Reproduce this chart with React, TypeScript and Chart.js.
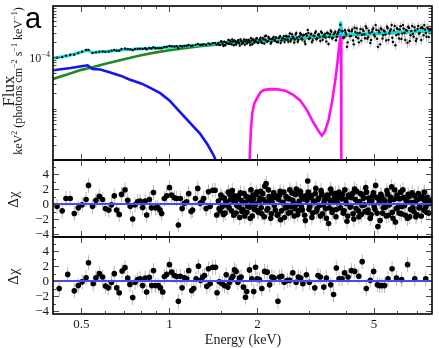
import { useEffect, useRef } from "react";
import { Chart, registerables } from "chart.js";

Chart.register(...registerables);

// ---------- axis ranges & ticks ----------
const X_MIN = 0.4;
const X_MAX = 7.9;
const FLUX_MIN = 1e-6;
const FLUX_MAX = 1e-3;
const RES_MIN = -4.4;
const RES_MAX = 5.9;
const FLUX_UNIT = 1e-4; // flux values below are in units of 1e-4

const xMajorTicks = [0.5, 1, 2, 5];
const xTickLabels = ["0.5", "1", "2", "5"];
const xMinorTicks = [0.6, 0.7, 0.8, 0.9, 1.5, 3, 4, 6, 7];
const resMajorTicks = [-4, -2, 0, 2, 4];
const resTickLabels = ["\u22124", "\u22122", "0", "2", "4"];
const resMinorTicks = [-3, -1, 1, 3, 5];
const fluxMajorTicks = [1e-4];
const fluxMinorTicks = [
  2e-6, 3e-6, 4e-6, 5e-6, 6e-6, 7e-6, 8e-6, 9e-6, 1e-5,
  2e-5, 3e-5, 4e-5, 5e-5, 6e-5, 7e-5, 8e-5, 9e-5,
  2e-4, 3e-4, 4e-4, 5e-4, 6e-4, 7e-4, 8e-4, 9e-4,
];

// ---------- model components: [energy keV, flux (1e-4 units)] ----------
const totalModel = [
  [0.4, 0.96], [0.45, 1.07], [0.5, 1.27], [0.525, 1.38], [0.545, 1.24], [0.6, 1.3],
  [0.7, 1.4], [0.85, 1.49], [1.0, 1.57], [1.3, 1.76], [1.6, 1.93], [1.9, 2.06],
  [2.3, 2.24], [2.6, 2.38], [3.0, 2.5], [3.4, 2.62], [3.7, 2.7], [3.8, 2.8],
  [3.83, 3.4], [3.85, 5.0], [3.87, 3.4], [3.9, 2.8], [3.95, 2.74], [4.5, 2.84],
  [5.7, 3.0], [7.9, 3.3],
];
const powerLaw = [
  [0.4, 0.38], [0.45, 0.47], [0.5, 0.57], [0.55, 0.65], [0.6, 0.74], [0.7, 0.92],
  [0.8, 1.1], [0.9, 1.25], [1.0, 1.37], [1.27, 1.64], [1.5, 1.8], [1.9, 1.98],
  [2.5, 2.2], [3.0, 2.38], [3.5, 2.53], [4.0, 2.66], [5.0, 2.86], [6.0, 3.02], [7.9, 3.25],
];
const softComp = [
  [0.4, 0.56], [0.46, 0.62], [0.5, 0.67], [0.525, 0.7], [0.545, 0.59], [0.58, 0.58],
  [0.62, 0.52], [0.68, 0.44], [0.73, 0.37], [0.8, 0.31], [0.854, 0.26], [0.93, 0.2],
  [1.0, 0.145], [1.13, 0.068], [1.27, 0.033], [1.35, 0.02], [1.42, 0.012], [1.5, 0.005],
];
const edgeComp = [
  [1.86, 0.003], [1.88, 0.01], [1.9, 0.04], [1.92, 0.08], [1.95, 0.127], [2.0, 0.165],
  [2.05, 0.21], [2.1, 0.23], [2.2, 0.24], [2.35, 0.238], [2.5, 0.22], [2.65, 0.185],
  [2.8, 0.145], [2.95, 0.095], [3.1, 0.055], [3.25, 0.035], [3.32, 0.03], [3.4, 0.036],
  [3.5, 0.06], [3.6, 0.14], [3.7, 0.4], [3.76, 0.87], [3.82, 2.0], [3.86, 2.9], [3.87, 0.002],
];

// ---------- observation 1: [energy keV, flux (1e-4 units), delta chi] ----------
const obs1 = [
  [0.413, 0.98, -0.3], [0.43, 1.01, -0.9], [0.443, 1.08, 0.75], [0.458, 1.12, 0.75], [0.473, 1.13, -1.25],
  [0.488, 1.21, -0.5], [0.503, 1.29, -0.1], [0.519, 1.39, 0.6], [0.529, 1.4, 2.5], [0.546, 1.21, -0.3],
  [0.561, 1.25, 0.5], [0.576, 1.29, 1.05], [0.591, 1.3, 0.6], [0.604, 1.28, -0.6], [0.62, 1.29, -0.8],
  [0.634, 1.34, -0.1], [0.648, 1.4, 1.1], [0.66, 1.34, -0.8], [0.674, 1.34, -1.4], [0.686, 1.45, 1.3],
  [0.705, 1.49, 1.9], [0.72, 1.45, 0.5], [0.735, 1.43, -0.3], [0.749, 1.38, -2.0], [0.763, 1.46, -0.1],
  [0.779, 1.47, 0.3], [0.794, 1.48, 0.4], [0.81, 1.46, -0.45], [0.826, 1.5, 0.4], [0.836, 1.44, -1.45],
  [0.854, 1.52, 0.6], [0.868, 1.49, -0.5], [0.882, 1.58, 1.55], [0.896, 1.5, -0.5], [0.912, 1.51, -0.45],
  [0.929, 1.51, -0.8], [0.941, 1.5, -1.25], [0.961, 1.59, 0.75], [0.979, 1.61, 1.1], [1.0, 1.67, 2.2],
  [1.018, 1.64, 1.2], [1.04, 1.63, 0.85], [1.059, 1.65, 0.75], [1.073, 1.52, -2.8], [1.09, 1.67, 0.75],
  [1.105, 1.63, -0.6], [1.125, 1.66, 0.1], [1.146, 1.68, 0.3], [1.164, 1.74, 1.4], [1.186, 1.66, -1.0],
  [1.2, 1.68, -0.8], [1.228, 1.75, 0.75], [1.25, 1.82, 2.1], [1.274, 1.74, 0.1], [1.293, 1.76, 0.3],
  [1.31, 1.79, 0.75], [1.335, 1.75, -0.6], [1.36, 1.86, 1.65], [1.378, 1.79, -0.3], [1.406, 1.89, 1.85],
  [1.433, 1.91, 1.85], [1.451, 1.77, -1.45],
  [1.47, 1.91, 0.4], [1.49, 1.73, -0.9], [1.5, 2.05, 1.2], [1.52, 1.83, -0.3], [1.54, 2.01, 0.8],
  [1.55, 1.72, -1.2], [1.57, 1.93, 0.1], [1.59, 2.17, 1.6], [1.6, 1.84, -0.5], [1.62, 2.02, 0.6],
  [1.64, 2.22, 1.8], [1.66, 1.72, -1.5], [1.68, 2.01, 0.3], [1.7, 1.94, -0.2], [1.72, 2.15, 1.1],
  [1.74, 1.7, -1.8], [1.76, 2.07, 0.5], [1.78, 1.89, -0.7], [1.8, 2.24, 1.4], [1.82, 2.05, 0.2],
  [1.84, 1.85, -1.1], [1.86, 2.19, 0.9], [1.88, 1.97, -0.4], [1.9, 2.36, 1.9], [1.92, 1.8, -1.6],
  [1.94, 2.19, 0.7], [1.96, 2.05, -0.2], [1.98, 2.31, 1.3], [2.0, 1.95, -0.9], [2.03, 2.18, 0.4],
  [2.05, 2.41, 1.7], [2.07, 1.91, -1.3], [2.1, 2.24, 0.6], [2.12, 2.56, 2.4], [2.14, 2.64, 2.75],
  [2.17, 2.07, -0.6], [2.19, 2.35, 1.0], [2.22, 1.86, -1.9], [2.24, 2.25, 0.3], [2.27, 2.49, 1.5],
  [2.3, 2.09, -0.8], [2.32, 2.4, 0.9], [2.35, 2.0, -1.4], [2.38, 2.49, 1.2], [2.4, 1.9, -2.1],
  [2.43, 2.33, 0.2], [2.46, 2.59, 1.6], [2.49, 2.23, -0.5], [2.52, 2.55, 0.8], [2.55, 2.01, -1.2],
  [2.58, 2.91, 1.9], [2.61, 2.29, -0.3], [2.64, 2.53, 0.5], [2.67, 1.94, -1.6], [2.7, 2.79, 1.3],
  [2.73, 2.42, 0.0], [2.76, 2.17, -0.9], [2.8, 2.94, 1.7], [2.83, 2.33, -0.4], [2.86, 2.67, 0.7],
  [2.9, 2.03, -1.5], [2.93, 2.81, 1.1], [2.97, 3.42, 3.1], [3.0, 2.29, -0.7], [3.04, 2.78, 0.9],
  [3.07, 1.98, -1.8], [3.11, 2.65, 0.4], [3.15, 2.97, 1.4], [3.18, 2.24, -1.0], [3.22, 2.74, 0.6],
  [3.26, 2.51, -0.2], [3.3, 3.14, 1.8], [3.34, 2.19, -1.3], [3.38, 2.7, 0.3], [3.42, 2.43, -0.6],
  [3.46, 3.01, 1.2], [3.5, 1.82, -2.6], [3.54, 2.81, 0.5], [3.58, 3.14, 1.5], [3.62, 2.41, -0.8],
  [3.67, 2.98, 0.9], [3.71, 2.15, -1.7], [3.75, 2.82, 0.2], [3.8, 3.4, 1.6], [3.84, 4.3, -0.5],
  [3.88, 3.25, 0.7], [3.93, 2.38, -1.2], [3.98, 3.36, 1.9], [4.02, 2.79, 0.1], [4.07, 1.96, -1.6],
  [4.12, 3.26, 1.0], [4.17, 2.62, -0.3], [4.22, 3.48, 1.4], [4.27, 1.79, -2.0], [4.32, 3.1, 0.6],
  [4.37, 3.67, 1.7], [4.42, 2.36, -0.9], [4.47, 2.98, 0.3], [4.53, 2.12, -1.4], [4.58, 3.47, 1.2],
  [4.64, 2.81, -0.1], [4.69, 4.01, 2.2], [4.75, 2.31, -1.1], [4.8, 3.31, 0.8], [4.86, 1.91, -1.9],
  [4.92, 3.12, 0.4], [4.98, 3.71, 1.5], [5.04, 2.56, -0.7], [5.1, 3.42, 0.9], [5.16, 1.6, -3.0],
  [5.22, 3.07, 0.2], [5.28, 3.66, 1.3], [5.35, 2.33, -1.2], [5.41, 3.3, 0.6], [5.48, 2.77, -0.4],
  [5.54, 3.96, 1.8], [5.61, 2.19, -1.5], [5.68, 3.27, 0.5], [5.75, 4.26, 2.3], [5.81, 1.99, -1.9],
  [5.89, 4.07, 1.9], [5.96, 2.71, -0.6], [6.03, 3.54, 0.8], [6.1, 2.33, -1.2], [6.17, 4.05, 1.6],
  [6.25, 2.9, -0.3], [6.32, 3.65, 0.9], [6.4, 2.17, -1.5], [6.48, 3.3, 0.3], [6.55, 3.93, 1.3],
  [6.63, 2.07, -1.7], [6.71, 3.27, 0.2], [6.8, 2.84, -0.5], [6.88, 3.86, 1.1], [6.96, 2.09, -1.7],
  [7.05, 3.56, 0.6], [7.13, 2.87, -0.5], [7.22, 3.71, 0.8], [7.3, 3.85, 1.0], [7.39, 2.7, -0.8],
  [7.48, 3.49, 0.4], [7.57, 2.53, -1.1], [7.66, 3.65, 0.6], [7.75, 3.34, 0.1], [7.84, 3.48, 0.3],
  // second interleaved set of channels
  [1.48, 1.77, -0.6], [1.51, 2.02, 0.9], [1.53, 1.68, -1.4], [1.56, 1.95, 0.3], [1.58, 1.88, -0.2],
  [1.61, 2.13, 1.3], [1.63, 1.8, -0.9], [1.65, 2.03, 0.5], [1.67, 2.13, 1.1], [1.69, 1.78, -1.2],
  [1.71, 2.08, 0.7], [1.73, 1.92, -0.4], [1.75, 2.23, 1.5], [1.77, 1.84, -1.0], [1.79, 2.03, 0.2],
  [1.81, 1.75, -1.6], [1.83, 2.18, 1.0], [1.85, 1.98, -0.3], [1.87, 2.14, 0.6], [1.89, 1.74, -1.9],
  [1.91, 2.12, 0.4], [1.93, 2.26, 1.2], [1.95, 1.95, -0.7], [1.97, 2.08, 0.0], [1.99, 2.36, 1.6],
  [2.015, 1.92, -1.1], [2.04, 2.25, 0.8], [2.06, 2.04, -0.5], [2.085, 2.37, 1.4], [2.11, 1.85, -1.7],
  [2.13, 2.2, 0.3], [2.155, 2.02, -0.8], [2.18, 2.5, 1.9], [2.205, 2.27, 0.5], [2.23, 1.96, -1.3],
  [2.255, 2.37, 0.9], [2.285, 2.18, -0.2], [2.31, 2.43, 1.1], [2.335, 1.97, -1.5], [2.365, 2.37, 0.6],
  [2.39, 2.58, 1.7], [2.415, 2.12, -0.9], [2.445, 2.34, 0.2], [2.475, 1.98, -1.8], [2.505, 2.61, 1.0],
  [2.535, 2.23, -0.4], [2.565, 2.56, 0.7], [2.595, 2.06, -1.1], [2.625, 2.81, 1.5], [2.655, 2.42, 0.1],
  [2.685, 2.23, -0.6], [2.715, 2.99, 2.0], [2.745, 2.01, -1.4], [2.78, 2.55, 0.4], [2.815, 2.79, 1.2],
  [2.845, 2.21, -0.8], [2.88, 2.73, 0.9], [2.915, 1.82, -2.2], [2.95, 2.63, 0.5], [2.985, 2.97, 1.6],
  [3.02, 2.41, -0.3], [3.055, 2.84, 1.1], [3.09, 2.16, -1.2], [3.13, 2.59, 0.2], [3.165, 3.18, 2.1],
  [3.2, 2.37, -0.6], [3.24, 2.81, 0.8], [3.28, 2.08, -1.6], [3.32, 2.99, 1.3], [3.36, 2.57, -0.1],
  [3.4, 2.84, 0.7], [3.44, 2.03, -1.9], [3.48, 2.96, 1.0], [3.52, 2.49, -0.5], [3.56, 3.3, 2.0],
  [3.6, 2.32, -1.1], [3.645, 2.81, 0.4], [3.69, 3.14, 1.4], [3.73, 2.48, -0.7], [3.775, 3.08, 0.9],
  [3.905, 3.24, 1.3], [3.955, 2.46, -0.9], [4.0, 3.04, 0.6], [4.045, 1.61, -2.3], [4.095, 3.36, 1.2],
  [4.145, 2.57, -0.4], [4.195, 3.22, 0.9], [4.245, 2.13, -1.3], [4.295, 3.79, 2.0], [4.345, 2.5, -0.6],
  [4.395, 2.96, 0.3], [4.445, 1.96, -1.7], [4.5, 3.56, 1.4], [4.555, 2.75, -0.2], [4.61, 3.27, 0.8],
  [4.665, 2.35, -1.0], [4.72, 3.7, 1.6], [4.775, 2.47, -0.8], [4.83, 2.99, 0.2], [4.89, 2.17, -1.4],
  [4.95, 3.49, 1.1], [5.01, 2.76, -0.3], [5.07, 4.25, 2.5], [5.13, 2.3, -1.2], [5.19, 3.32, 0.7],
  [5.25, 1.79, -2.2], [5.315, 3.5, 1.0], [5.38, 2.7, -0.5], [5.445, 3.19, 0.4], [5.51, 2.13, -1.6],
  [5.575, 3.69, 1.3], [5.645, 2.95, -0.1], [5.715, 3.49, 0.9], [5.78, 2.41, -1.1], [5.85, 3.35, 0.6],
  [5.925, 1.72, -2.4], [5.995, 3.7, 1.2], [6.065, 2.81, -0.4], [6.135, 3.49, 0.7], [6.21, 2.27, -1.3],
  [6.285, 4.25, 1.9], [6.36, 2.97, -0.2], [6.44, 3.41, 0.5], [6.515, 1.93, -1.9], [6.59, 3.74, 1.0],
  [6.67, 2.69, -0.7], [6.755, 4.08, 1.5], [6.84, 2.52, -1.0], [6.92, 3.35, 0.3], [7.0, 2.29, -1.4],
  [7.09, 4.07, 1.4], [7.175, 3.0, -0.3], [7.26, 2.18, -1.6], [7.345, 3.66, 0.7], [7.435, 4.25, 1.6],
  [7.525, 2.97, -0.4], [7.615, 3.84, 0.9], [7.705, 2.48, -1.2], [7.795, 3.54, 0.4],
];
// relative flux errors by energy band
const errBandEdges = [1.0, 1.5, 2.5, 4.0, 6.0];
const errBandRel = [0.025, 0.045, 0.08, 0.12, 0.18, 0.2];

// ---------- observation 2 residuals: [energy keV, delta chi] ----------
const resid2 = [
  [0.42, -1.0], [0.449, 0.9], [0.473, -1.3], [0.488, -0.6], [0.503, -0.1], [0.519, 0.45], [0.529, 2.45],
  [0.549, -0.35], [0.561, 0.45], [0.576, 1.0], [0.591, 0.55], [0.604, -0.65], [0.618, -0.9], [0.634, -0.2],
  [0.648, 1.0], [0.66, -0.9], [0.674, -1.55], [0.689, 1.35], [0.705, 1.8], [0.72, 0.4], [0.733, -0.45],
  [0.749, -2.2], [0.763, -0.15], [0.779, 0.2], [0.794, 0.3], [0.81, -0.6], [0.826, 0.4], [0.836, -1.45],
  [0.854, 0.5], [0.87, -0.6], [0.882, 1.4], [0.896, -0.6], [0.917, -0.6], [0.931, -0.9], [0.949, -1.45],
  [0.961, 0.6], [0.979, 0.9], [1.0, 2.2], [1.018, 1.2], [1.04, 0.75], [1.059, 0.6], [1.073, -2.7],
  [1.09, 0.65], [1.105, -0.9], [1.125, 0.45], [1.146, 0.3], [1.164, 1.4], [1.192, -1.25], [1.211, -1.0],
  [1.234, 0.3], [1.257, 2.0], [1.277, 0.1], [1.3, 0.55], [1.318, 0.75], [1.342, -0.7], [1.36, 1.65],
  [1.378, -0.35], [1.406, 1.85], [1.437, 1.85], [1.455, -1.55], [1.48, -0.1], [1.515, -0.35], [1.543, -0.6],
  [1.564, 0.85], [1.584, -0.8], [1.605, -0.15], [1.627, 0.3], [1.648, 0.65], [1.669, 1.5], [1.69, 1.3],
  [1.713, -0.15], [1.736, 0.4], [1.758, 0.55], [1.79, -0.8], [1.82, -2.15], [1.838, -1.4], [1.878, 1.5],
  [1.912, 0.3], [1.942, -1.4], [1.97, 1.85], [1.995, 0.3], [2.03, 0.2], [2.07, -1.0], [2.115, 1.3],
  [2.16, 1.2], [2.2, -0.5], [2.24, 0.55], [2.28, 0.4], [2.35, -2.7], [2.38, 0.55], [2.42, 0.65],
  [2.47, -0.15], [2.53, 0.1], [2.58, 0.1], [2.64, 1.1], [2.71, -0.15], [2.76, 0.55], [2.81, 0.4],
  [2.86, -0.35], [2.94, 0.85], [3.01, -0.15], [3.14, -0.9], [3.22, 0.75], [3.28, 0.55], [3.37, -0.8],
  [3.44, 0.4], [3.56, -0.5], [3.64, -1.8], [3.72, 1.75], [3.8, 0.3], [3.89, 0.3], [3.97, 1.1],
  [4.08, 0.55], [4.19, 1.4], [4.3, 1.3], [4.44, 0.65], [4.56, 2.6], [4.71, -1.0], [4.86, 0.1],
  [4.99, 1.3], [5.14, -0.5], [5.23, -0.6], [5.33, -0.6], [5.44, -0.6], [5.59, 0.3], [5.77, 1.65],
  [5.97, 0.4], [6.22, 0.2], [6.52, 2.2], [6.9, 0.3], [7.52, 0.3],
];
const residModelLevel = 0;
const residErr = 1; // delta chi error bars are +/-1 sigma

// ---------- styling ----------
const SERIF = "'Liberation Serif', 'Times New Roman', serif";
const SANS = "'Liberation Sans', Arial, sans-serif";
const C_TOTAL = "#00e2e2";
const C_PL = "#1f8a1f";
const C_SOFT = "#1414ee";
const C_EDGE = "#ff10f0";
const C_ZERO = "#4848ff";
const C_ERR = "#b8b8b8";
const C_TEXT = "#1a1a1a";

type Seg = [string, boolean?];

function fontOf(size: number) {
  return `${size}px ${SERIF}`;
}
function segsWidth(ctx: CanvasRenderingContext2D, segs: Seg[], size: number) {
  let w = 0;
  for (const [t, sup] of segs) {
    ctx.font = fontOf(sup ? size * 0.68 : size);
    w += ctx.measureText(t).width;
  }
  return w;
}
function drawSegs(
  ctx: CanvasRenderingContext2D,
  segs: Seg[],
  x: number,
  y: number,
  size: number,
  align: "left" | "center" | "right"
) {
  const w = segsWidth(ctx, segs, size);
  let cx = align === "left" ? x : align === "center" ? x - w / 2 : x - w;
  ctx.textAlign = "left";
  ctx.textBaseline = "alphabetic";
  for (const [t, sup] of segs) {
    const s = sup ? size * 0.68 : size;
    ctx.font = fontOf(s);
    ctx.fillText(t, cx, sup ? y - size * 0.42 : y);
    cx += ctx.measureText(t).width;
  }
}
function relErrFor(e: number) {
  let i = 0;
  while (i < errBandEdges.length && e >= errBandEdges[i]) i++;
  return errBandRel[i];
}

const panelPlugin = {
  id: "panelDecor",
  beforeDatasetsDraw(chart: any) {
    const ctx: CanvasRenderingContext2D = chart.ctx;
    const x = chart.scales.x;
    const yF = chart.scales.yF;
    const r1 = chart.scales.yR1;
    const r2 = chart.scales.yR2;
    ctx.save();
    ctx.strokeStyle = C_ERR;
    ctx.lineWidth = 1;
    const clipTo = (s: any) => {
      ctx.save();
      ctx.beginPath();
      ctx.rect(x.left, s.top, x.right - x.left, s.bottom - s.top);
      ctx.clip();
    };
    // flux error bars
    clipTo(yF);
    ctx.beginPath();
    for (const [e, f] of obs1) {
      const px = x.getPixelForValue(e);
      const rel = relErrFor(e);
      ctx.moveTo(px, yF.getPixelForValue(f * FLUX_UNIT * (1 + rel)));
      ctx.lineTo(px, yF.getPixelForValue(f * FLUX_UNIT * (1 - rel)));
    }
    ctx.stroke();
    ctx.restore();
    // residual error bars
    const resBars = (s: any, rows: number[][], idx: number) => {
      clipTo(s);
      ctx.beginPath();
      for (const row of rows) {
        const px = x.getPixelForValue(row[0]);
        ctx.moveTo(px, s.getPixelForValue(row[idx] + residErr));
        ctx.lineTo(px, s.getPixelForValue(row[idx] - residErr));
      }
      ctx.stroke();
      ctx.restore();
    };
    resBars(r1, obs1, 2);
    resBars(r2, resid2, 1);
    ctx.restore();
  },
  afterDatasetsDraw(chart: any) {
    const ctx: CanvasRenderingContext2D = chart.ctx;
    const x = chart.scales.x;
    const yF = chart.scales.yF;
    const r1 = chart.scales.yR1;
    const r2 = chart.scales.yR2;
    const L = x.left;
    const R = x.right;
    const panels = [yF, r1, r2];
    ctx.save();
    const seg = (x1: number, y1: number, x2: number, y2: number) => {
      ctx.moveTo(x1, y1);
      ctx.lineTo(x2, y2);
    };
    // x ticks (inward, top and bottom of every panel)
    ctx.strokeStyle = "#505050";
    ctx.lineWidth = 1;
    ctx.beginPath();
    for (const p of panels) {
      for (const v of xMajorTicks) {
        const px = Math.round(x.getPixelForValue(v)) + 0.5;
        seg(px, p.top, px, p.top + 6);
        seg(px, p.bottom, px, p.bottom - 6);
      }
      for (const v of xMinorTicks) {
        const px = Math.round(x.getPixelForValue(v)) + 0.5;
        seg(px, p.top, px, p.top + 3);
        seg(px, p.bottom, px, p.bottom - 3);
      }
    }
    // y ticks
    const yTicks = (s: any, vals: number[], len: number) => {
      for (const v of vals) {
        const py = Math.round(s.getPixelForValue(v)) + 0.5;
        if (py < s.top + 1 || py > s.bottom - 1) continue;
        seg(L, py, L + len, py);
        seg(R, py, R - len, py);
      }
    };
    yTicks(yF, fluxMajorTicks, 7);
    yTicks(yF, fluxMinorTicks, 3.5);
    yTicks(r1, resMajorTicks, 6);
    yTicks(r1, resMinorTicks, 3);
    yTicks(r2, resMajorTicks, 6);
    yTicks(r2, resMinorTicks, 3);
    ctx.stroke();

    // frames
    ctx.strokeStyle = "#000";
    ctx.lineWidth = 1.6;
    for (const p of panels) {
      ctx.strokeRect(L, p.top, R - L, p.bottom - p.top);
    }

    // tick labels
    ctx.fillStyle = C_TEXT;
    ctx.font = fontOf(13);
    ctx.textAlign = "center";
    ctx.textBaseline = "alphabetic";
    xMajorTicks.forEach((v, i) => {
      ctx.fillText(xTickLabels[i], x.getPixelForValue(v), r2.bottom + 14);
    });
    ctx.textAlign = "right";
    ctx.textBaseline = "middle";
    for (const s of [r1, r2]) {
      resMajorTicks.forEach((v, i) => {
        ctx.fillText(resTickLabels[i], L - 4, s.getPixelForValue(v) + 0.5);
      });
    }
    drawSegs(ctx, [["10"], ["\u22124", true]], L - 3, yF.getPixelForValue(1e-4) + 4.5, 12, "right");

    // axis titles
    ctx.font = fontOf(14);
    ctx.textAlign = "center";
    ctx.textBaseline = "alphabetic";
    ctx.fillText("Energy (keV)", (L + R) / 2 + 0.5, r2.bottom + 30);

    ctx.save();
    ctx.translate(14, (yF.top + yF.bottom) / 2 + 8);
    ctx.rotate(-Math.PI / 2);
    ctx.font = fontOf(17);
    ctx.textAlign = "center";
    ctx.fillText("Flux", 0, 0);
    ctx.restore();

    ctx.save();
    ctx.translate(22, (yF.top + yF.bottom) / 2 - 2);
    ctx.rotate(-Math.PI / 2);
    drawSegs(
      ctx,
      [["keV"], ["2", true], [" (photons cm"], ["\u22122", true], [" s"], ["\u22121", true], [" keV"], ["\u22121", true], [")"]],
      0,
      0,
      12,
      "center"
    );
    ctx.restore();

    for (const s of [r1, r2]) {
      ctx.save();
      ctx.translate(18, (s.top + s.bottom) / 2 + 1);
      ctx.rotate(-Math.PI / 2);
      ctx.font = fontOf(15);
      ctx.textAlign = "center";
      ctx.fillText("\u0394\u03c7", 0, 0);
      ctx.restore();
    }

    // panel letter
    ctx.font = `29px ${SANS}`;
    ctx.textAlign = "left";
    ctx.fillStyle = "#000";
    ctx.fillText("a", 25, 28);
    ctx.restore();
  },
};

const toFlux = (rows: number[][]) => rows.map((r) => ({ x: r[0], y: r[1] * FLUX_UNIT }));

export default function App() {
  const ref = useRef<HTMLCanvasElement>(null);
  useEffect(() => {
    if (!ref.current) return;
    const lineDs = (label: string, rows: number[][], color: string, width: number, order: number) => ({
      label,
      data: toFlux(rows),
      yAxisID: "yF",
      showLine: true,
      borderColor: color,
      backgroundColor: color,
      borderWidth: width,
      pointRadius: 0,
      tension: 0,
      order,
    });
    const chart = new Chart(ref.current, {
      type: "scatter",
      data: {
        datasets: [
          {
            label: "model 1",
            data: [{ x: X_MIN, y: residModelLevel }, { x: X_MAX, y: residModelLevel }],
            yAxisID: "yR1",
            showLine: true,
            borderColor: C_ZERO,
            borderWidth: 2,
            pointRadius: 0,
            order: 1,
          },
          {
            label: "model 2",
            data: [{ x: X_MIN, y: residModelLevel }, { x: X_MAX, y: residModelLevel }],
            yAxisID: "yR2",
            showLine: true,
            borderColor: C_ZERO,
            borderWidth: 2,
            pointRadius: 0,
            order: 1,
          },
          {
            label: "residuals 1",
            data: obs1.map((r) => ({ x: r[0], y: r[2] })),
            yAxisID: "yR1",
            backgroundColor: "#000",
            borderWidth: 0,
            pointRadius: 2.8,
            order: 2,
          },
          {
            label: "residuals 2",
            data: resid2.map((r) => ({ x: r[0], y: r[1] })),
            yAxisID: "yR2",
            backgroundColor: "#000",
            borderWidth: 0,
            pointRadius: 2.8,
            order: 2,
          },
          {
            label: "data",
            data: toFlux(obs1),
            yAxisID: "yF",
            backgroundColor: "#000",
            borderWidth: 0,
            pointRadius: 1.2,
            order: 3,
          },
          lineDs("total", totalModel, C_TOTAL, 3, 4),
          lineDs("edge", edgeComp, C_EDGE, 2.6, 5),
          lineDs("soft", softComp, C_SOFT, 2.6, 6),
          lineDs("power law", powerLaw, C_PL, 2.6, 7),
        ] as any,
      },
      options: {
        responsive: false,
        devicePixelRatio: 1,
        animation: false,
        events: [],
        layout: { padding: { left: 53, right: 7, top: 6, bottom: 34 } },
        plugins: { legend: { display: false }, tooltip: { enabled: false } },
        scales: {
          x: { type: "logarithmic", min: X_MIN, max: X_MAX, display: false, position: "bottom" },
          yR2: { type: "linear", min: RES_MIN, max: RES_MAX, display: false, position: "left", stack: "v", stackWeight: 1, weight: 1 },
          yR1: { type: "linear", min: RES_MIN, max: RES_MAX, display: false, position: "left", stack: "v", stackWeight: 1, weight: 2 },
          yF: { type: "logarithmic", min: FLUX_MIN, max: FLUX_MAX, display: false, position: "left", stack: "v", stackWeight: 2, weight: 3 },
        } as any,
      },
      plugins: [panelPlugin],
    });
    return () => chart.destroy();
  }, []);
  return (
    <div style={{ position: "absolute", left: 0, top: 0, width: 439, height: 348, background: "#fff" }}>
      <canvas ref={ref} width={439} height={348} style={{ display: "block" }} />
    </div>
  );
}
